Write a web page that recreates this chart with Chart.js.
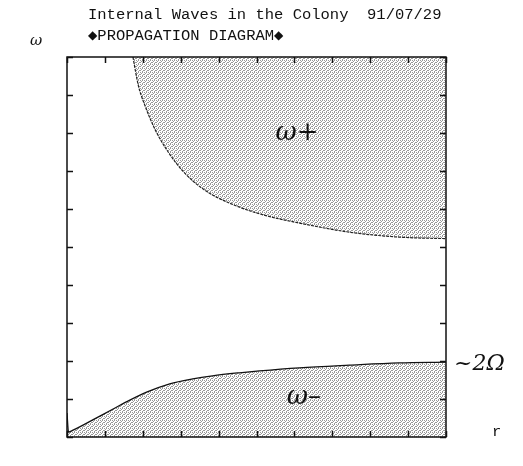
<!DOCTYPE html>
<html>
<head>
<meta charset="utf-8">
<title>Propagation diagram</title>
<script src="https://cdn.jsdelivr.net/npm/chart.js@4/dist/chart.umd.min.js"></script>
<style>
  html, body { margin: 0; padding: 0; background: #fff; }
  #wrap { position: relative; width: 523px; height: 466px; }
</style>
</head>
<body>
<div id="wrap"><canvas id="chart" width="523" height="466"></canvas></div>
<script>
// --- dados (eixos 0..10 sem unidades) ---
const rPlus = [1.74, 1.88, 2.05, 2.32, 2.67, 3.10, 3.63, 4.42, 5.20, 6.13, 7.45, 8.76, 10.0];
const omegaPlus = [10.0, 9.26, 8.74, 8.10, 7.50, 6.95, 6.50, 6.10, 5.84, 5.63, 5.39, 5.26, 5.22];

const rMinus = [0.0, 0.04, 0.16, 0.68, 1.13, 1.58, 2.10, 2.71, 3.32, 3.84, 4.55, 5.08, 6.13, 7.45, 8.76, 10.0];
const omegaMinus = [0.63, 0.13, 0.18, 0.45, 0.69, 0.93, 1.18, 1.40, 1.53, 1.61, 1.69, 1.74, 1.82, 1.89, 1.95, 1.97];

const tickValues = [0, 1, 2, 3, 4, 5, 6, 7, 8, 9, 10];

const titleLine1 = 'Internal Waves in the Colony  91/07/29';
const titleLine2 = '\u25C6PROPAGATION DIAGRAM\u25C6';

// padrão pontilhado cinza para as regiões de propagação
function makePattern() {
    const c = document.createElement('canvas');
    c.width = 4; c.height = 4;
    const g = c.getContext('2d');
    g.fillStyle = '#ffffff';
    g.fillRect(0, 0, 4, 4);
    g.fillStyle = '#999999';
    [[0, 0], [2, 0], [1, 1], [3, 2], [0, 2], [2, 3]].forEach(p => g.fillRect(p[0], p[1], 1, 1));
    return g.createPattern(c, 'repeat');
}

const shade = makePattern();

// moldura, ticks internos e textos
const framePlugin = {
    id: 'frame',
    afterDraw(chart) {
        const ctx = chart.ctx;
        const a = chart.chartArea;
        const xs = chart.scales.x;
        const ys = chart.scales.y;
        ctx.save();
        ctx.strokeStyle = '#111';
        ctx.lineWidth = 1.5;
        ctx.strokeRect(a.left, a.top, a.right - a.left, a.bottom - a.top);
        const tl = 6;
        tickValues.forEach(v => {
            const px = Math.round(xs.getPixelForValue(v)) + 0.5;
            const py = Math.round(ys.getPixelForValue(v)) + 0.5;
            ctx.beginPath();
            ctx.moveTo(px, a.bottom); ctx.lineTo(px, a.bottom - tl);
            ctx.moveTo(px, a.top); ctx.lineTo(px, a.top + tl);
            ctx.moveTo(a.left, py); ctx.lineTo(a.left + tl, py);
            ctx.moveTo(a.right, py); ctx.lineTo(a.right - tl, py);
            ctx.stroke();
        });

        ctx.fillStyle = '#111';
        ctx.textBaseline = 'middle';
        ctx.textAlign = 'left';
        ctx.font = '15.5px "Liberation Mono", monospace';
        ctx.fillText(titleLine1, 88, 15);
        ctx.fillText(titleLine2, 88, 36);
        ctx.fillText('r', 492, 432);

        ctx.font = 'italic 15px "DejaVu Serif", serif';
        ctx.fillText('\u03C9', 30, 41);

        ctx.font = 'italic 26px "DejaVu Serif", serif';
        ctx.fillText('\u03C9+', xs.getPixelForValue(5.5), ys.getPixelForValue(8.0));
        ctx.fillText('\u03C9\u2013', xs.getPixelForValue(5.8), ys.getPixelForValue(1.05));
        ctx.font = 'italic 22px "DejaVu Serif", serif';
        ctx.fillText('~2\u03A9', 454, ys.getPixelForValue(1.95) + 1);
        ctx.restore();
    }
};

const chart = new Chart(document.getElementById('chart').getContext('2d'), {
    type: 'line',
    data: {
        datasets: [
            {
                label: '\u03C9+',
                data: rPlus.map((r, i) => ({ x: r, y: omegaPlus[i] })),
                borderColor: '#222',
                borderWidth: 1.2,
                borderDash: [3, 1],
                backgroundColor: shade,
                fill: 'end',
                pointRadius: 0,
                cubicInterpolationMode: 'monotone'
            },
            {
                label: '\u03C9-',
                data: rMinus.map((r, i) => ({ x: r, y: omegaMinus[i] })),
                borderColor: '#111',
                borderWidth: 1.3,
                backgroundColor: shade,
                fill: 'origin',
                pointRadius: 0,
                cubicInterpolationMode: 'monotone'
            }
        ]
    },
    options: {
        responsive: false,
        animation: false,
        layout: { padding: { left: 67, top: 57, right: 77, bottom: 29 } },
        plugins: {
            legend: { display: false },
            tooltip: { enabled: false }
        },
        scales: {
            x: { type: 'linear', min: 0, max: 10, display: false },
            y: { type: 'linear', min: 0, max: 10, display: false }
        }
    },
    plugins: [framePlugin]
});
</script>
</body>
</html>
